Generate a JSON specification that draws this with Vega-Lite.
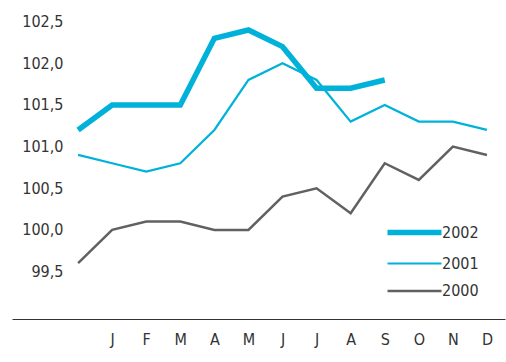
{
  "$schema": "https://vega.github.io/schema/vega-lite/v6.json",
  "width": 493,
  "height": 319,
  "autosize": {"type": "none"},
  "padding": {"left": 12, "top": 0, "right": 1, "bottom": 43},
  "background": "white",
  "config": {"view": {"stroke": null}, "font": "DejaVu Sans Condensed, Liberation Sans"},
  "data": {"values": [
    {"m": 0, "year": "2002", "v": 101.2},
    {"m": 1, "year": "2002", "v": 101.5},
    {"m": 2, "year": "2002", "v": 101.5},
    {"m": 3, "year": "2002", "v": 101.5},
    {"m": 4, "year": "2002", "v": 102.3},
    {"m": 5, "year": "2002", "v": 102.4},
    {"m": 6, "year": "2002", "v": 102.2},
    {"m": 7, "year": "2002", "v": 101.7},
    {"m": 8, "year": "2002", "v": 101.7},
    {"m": 9, "year": "2002", "v": 101.8},
    {"m": 0, "year": "2001", "v": 100.9},
    {"m": 1, "year": "2001", "v": 100.8},
    {"m": 2, "year": "2001", "v": 100.7},
    {"m": 3, "year": "2001", "v": 100.8},
    {"m": 4, "year": "2001", "v": 101.2},
    {"m": 5, "year": "2001", "v": 101.8},
    {"m": 6, "year": "2001", "v": 102.0},
    {"m": 7, "year": "2001", "v": 101.8},
    {"m": 8, "year": "2001", "v": 101.3},
    {"m": 9, "year": "2001", "v": 101.5},
    {"m": 10, "year": "2001", "v": 101.3},
    {"m": 11, "year": "2001", "v": 101.3},
    {"m": 12, "year": "2001", "v": 101.2},
    {"m": 0, "year": "2000", "v": 99.6},
    {"m": 1, "year": "2000", "v": 100.0},
    {"m": 2, "year": "2000", "v": 100.1},
    {"m": 3, "year": "2000", "v": 100.1},
    {"m": 4, "year": "2000", "v": 100.0},
    {"m": 5, "year": "2000", "v": 100.0},
    {"m": 6, "year": "2000", "v": 100.4},
    {"m": 7, "year": "2000", "v": 100.5},
    {"m": 8, "year": "2000", "v": 100.2},
    {"m": 9, "year": "2000", "v": 100.8},
    {"m": 10, "year": "2000", "v": 100.6},
    {"m": 11, "year": "2000", "v": 101.0},
    {"m": 12, "year": "2000", "v": 100.9}
  ]},
  "mark": {"type": "line", "strokeJoin": "miter", "strokeCap": "butt"},
  "encoding": {
    "x": {
      "field": "m", "type": "quantitative",
      "scale": {"domain": [-1.94, 12.53], "nice": false, "zero": false},
      "axis": {
        "title": null, "values": [1,2,3,4,5,6,7,8,9,10,11,12],
        "labelExpr": "['','J','F','M','A','M','J','J','A','S','O','N','D'][datum.value]",
        "ticks": false, "grid": false, "domainColor": "#333333", "domainWidth": 1.2,
        "labelFontSize": 16, "labelColor": "#333333", "labelPadding": 12
      }
    },
    "y": {
      "field": "v", "type": "quantitative",
      "scale": {"domain": [98.93, 102.76], "nice": false, "zero": false},
      "axis": {
        "title": null, "values": [99.5, 100, 100.5, 101, 101.5, 102, 102.5],
        "labelExpr": "replace(format(datum.value, '.1f'), '.', ',')",
        "ticks": false, "grid": false, "domain": false,
        "labelFontSize": 16, "labelColor": "#333333", "labelPadding": -51
      }
    },
    "color": {
      "field": "year", "type": "nominal",
      "scale": {"domain": ["2002", "2001", "2000"], "range": ["#00b2d9", "#00b2d9", "#616161"]},
      "legend": {
        "title": null, "orient": "none", "legendX": 386, "legendY": 216, "padding": 0,
        "symbolType": "M-2,0H2", "symbolSize": 729, "rowPadding": 4.5,
        "labelFontSize": 16, "labelColor": "#333333", "labelOffset": 11
      }
    },
    "strokeWidth": {
      "field": "year", "type": "nominal",
      "scale": {"type": "ordinal", "domain": ["2002", "2001", "2000"], "range": [5.5, 2.2, 2.5]},
      "legend": {"title": null}
    }
  }
}
